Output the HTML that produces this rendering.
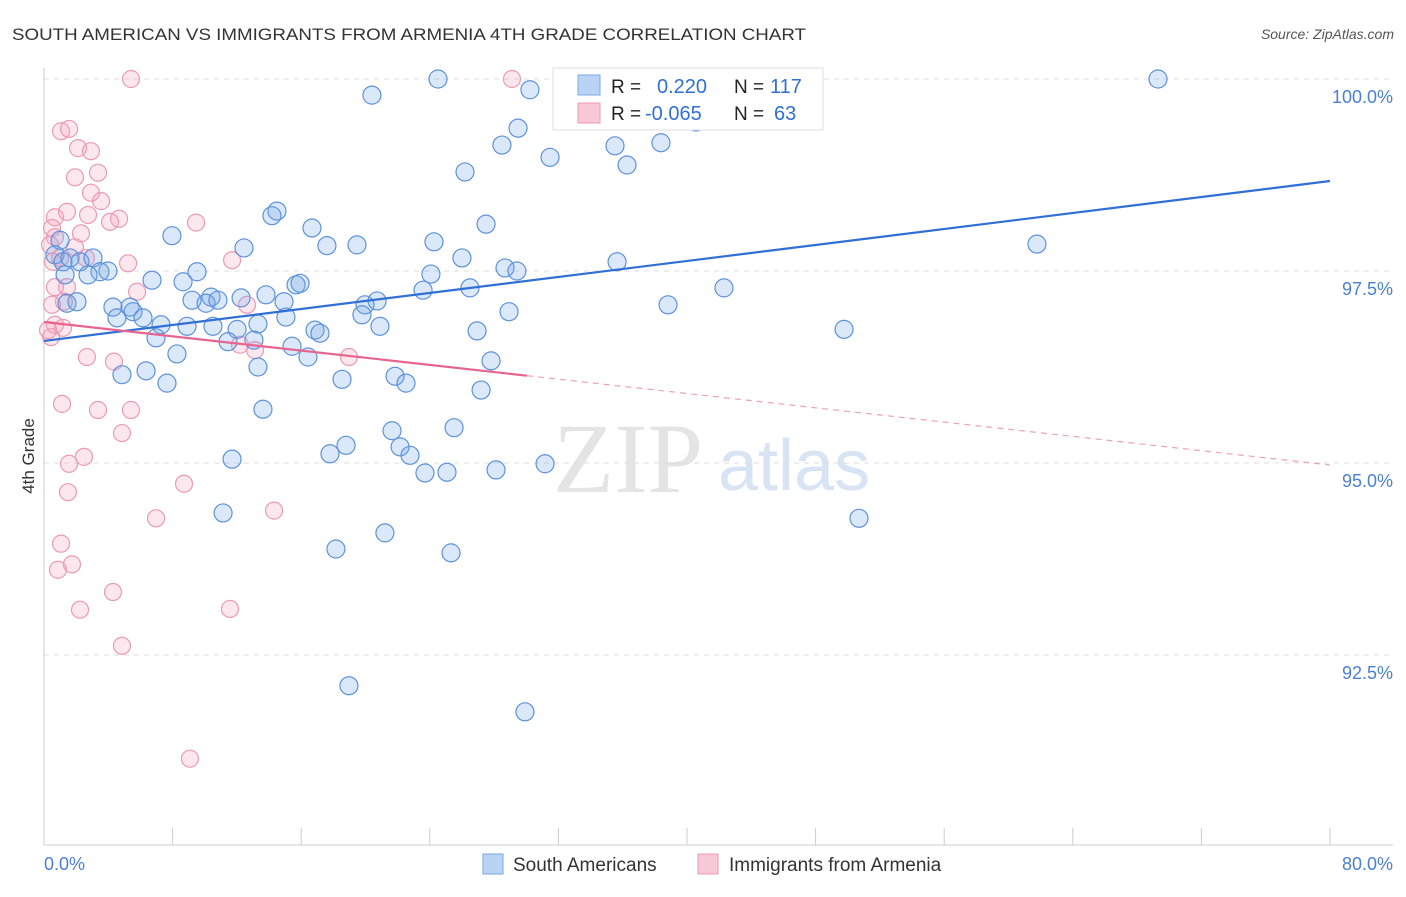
<!DOCTYPE html>
<html><head><meta charset="utf-8"><style>
body{margin:0;background:#fff;font-family:"Liberation Sans",sans-serif}
svg text{font-family:"Liberation Sans",sans-serif}
</style></head><body>
<svg id="c" width="1406" height="892">
<text x="12" y="40" font-size="17" fill="#333" textLength="794" lengthAdjust="spacingAndGlyphs">SOUTH AMERICAN VS IMMIGRANTS FROM ARMENIA 4TH GRADE CORRELATION CHART</text>
<text x="1394" y="39" font-size="14" fill="#555" text-anchor="end" font-style="italic">Source: ZipAtlas.com</text>
<text x="34" y="456" font-size="17" fill="#333" transform="rotate(-90 34 456)" text-anchor="middle">4th Grade</text>
<text x="553" y="492" font-size="100" fill="#e4e4e4" style="font-family:'Liberation Serif',serif">ZIP</text>
<text x="718" y="490" font-size="72" fill="#d8e4f4">atlas</text>
<g id="grid"></g><g id="pts"></g><g id="lines"></g>
<g>
<rect x="553" y="68" width="270" height="62" fill="#fff" stroke="#ddd"/>
<rect x="578" y="75" width="22" height="20" fill="#b8d3f4" stroke="#7aa8e6"/>
<rect x="578" y="103" width="22" height="20" fill="#f8c8d6" stroke="#ee9ab4"/>
<text x="611" y="93" font-size="19" fill="#222">R = </text><text x="657" y="93" font-size="20" fill="#2f6fd6">0.220</text>
<text x="734" y="93" font-size="19" fill="#222">N = </text><text x="770" y="93" font-size="20" fill="#2f6fd6">117</text>
<text x="611" y="120" font-size="19" fill="#222">R = </text><text x="645" y="120" font-size="20" fill="#2f6fd6">-0.065</text>
<text x="734" y="120" font-size="19" fill="#222">N = </text><text x="774" y="120" font-size="20" fill="#2f6fd6">63</text>
</g>
<g>
<rect x="483" y="854" width="20" height="20" fill="#b8d3f4" stroke="#7aa8e6"/>
<text x="513" y="871" font-size="19" fill="#333">South Americans</text>
<rect x="698" y="854" width="20" height="20" fill="#f8c8d6" stroke="#ee9ab4"/>
<text x="729" y="871" font-size="19" fill="#333">Immigrants from Armenia</text>
</g>
<text x="44" y="870" font-size="18" fill="#4a7fd6">0.0%</text>
<text x="1393" y="870" font-size="18" fill="#4a7fd6" text-anchor="end">80.0%</text>
</svg>
<script>
const yTicks=[100,97.5,95,92.5];
const yTickLabels=["100.0%","97.5%","95.0%","92.5%"];
const xTicks=[0,8,16,24,32,40,48,56,64,72,80];
const blueX=[24.51,20.40,30.23,35.33,39.32,69.30,32.54,29.49,28.49,31.48,35.52,38.38,36.27,26.19,40.56,14.49,14.18,16.67,27.50,7.96,12.44,17.60,19.47,24.26,61.77,35.65,26.00,28.68,29.42,24.07,1.00,0.68,1.18,1.62,2.24,3.05,3.48,3.98,1.31,2.74,6.72,8.65,9.52,15.68,15.93,13.81,10.39,26.50,23.58,42.30,9.21,10.08,10.82,12.26,14.93,4.29,5.35,1.43,2.05,4.54,5.54,6.16,7.28,8.90,10.51,12.01,13.31,15.05,20.72,19.97,19.78,20.90,16.86,17.17,28.93,26.94,38.82,49.77,6.97,11.45,13.06,15.43,16.42,8.27,27.81,13.31,6.35,4.85,7.65,18.54,21.84,22.52,27.19,13.62,21.65,25.51,18.79,22.15,22.77,17.79,11.70,23.70,25.07,28.12,31.17,11.14,50.70,21.21,18.16,25.32,18.97,29.92];
const blueY=[100,99.79,99.86,99.99,99.99,100,100,99.36,99.14,98.98,99.13,99.17,98.88,98.79,99.44,98.28,98.22,98.06,98.11,97.96,97.80,97.83,97.84,97.88,97.85,97.62,97.67,97.54,97.50,97.46,97.90,97.71,97.62,97.67,97.62,97.67,97.49,97.50,97.45,97.45,97.38,97.36,97.49,97.32,97.34,97.19,97.16,97.28,97.25,97.28,97.12,97.08,97.12,97.15,97.10,97.03,97.03,97.08,97.10,96.89,96.97,96.89,96.80,96.78,96.78,96.74,96.81,96.90,97.11,97.06,96.93,96.78,96.73,96.69,96.97,96.72,97.06,96.74,96.63,96.58,96.60,96.52,96.38,96.42,96.33,96.25,96.20,96.15,96.04,96.09,96.13,96.04,95.95,95.70,95.42,95.46,95.23,95.21,95.10,95.12,95.05,94.87,94.88,94.91,94.99,94.35,94.28,94.09,93.88,93.83,92.10,91.76];
const pinkX=[5.41,29.11,1.06,1.56,2.12,2.92,1.93,3.36,2.92,3.55,0.68,1.43,2.74,4.67,4.11,9.46,0.50,2.30,0.68,1.93,0.37,1.00,2.61,0.56,5.23,11.70,5.79,1.43,0.68,1.24,12.63,0.50,0.68,1.18,0.25,0.44,12.19,13.13,18.97,2.67,4.35,1.12,3.36,5.41,4.85,2.49,1.56,1.49,8.71,6.97,14.31,1.06,1.74,0.87,4.29,2.24,11.57,4.85,9.08];
const pinkY=[100,100,99.32,99.35,99.10,99.06,98.72,98.78,98.52,98.41,98.20,98.27,98.23,98.18,98.14,98.13,98.06,97.99,97.94,97.81,97.84,97.67,97.67,97.62,97.60,97.64,97.23,97.29,97.29,97.10,97.06,97.06,96.80,96.76,96.73,96.64,96.54,96.47,96.38,96.38,96.32,95.77,95.69,95.69,95.39,95.08,94.99,94.62,94.73,94.28,94.38,93.95,93.68,93.61,93.32,93.09,93.10,92.62,91.15];
const blueTrend=[96.589,98.672];
const pinkTrend=[96.836,94.974];
const pinkSolidEnd=30.05;
const NS="http://www.w3.org/2000/svg";
const sx=v=>44+v*16.075, sy=v=>79+(100-v)*76.8;
function mk(t,a,p){const e=document.createElementNS(NS,t);for(const k in a)e.setAttribute(k,a[k]);p.appendChild(e);return e;}
const grid=document.getElementById('grid');
yTicks.forEach((t,i)=>{
 const l=mk('line',{x1:44,x2:1393,y1:sy(t),y2:sy(t),stroke:'#ddd','stroke-dasharray':'5,5'},grid);
 
 
 const tx=mk('text',{x:1393,y:sy(t)+24,'font-size':18,fill:'#4a7fd6','text-anchor':'end'},grid);
 tx.textContent=yTickLabels[i];
 
 
});
const ax=mk('line',{x1:44,x2:44,y1:68,y2:845,stroke:'#ccc'},grid);


const bx=mk('line',{x1:44,x2:1393,y1:845,y2:845,stroke:'#ccc'},grid);


xTicks.forEach(t=>{
 const l=mk('line',{x1:sx(t),x2:sx(t),y1:828,y2:845,stroke:'#ccc'},grid);
 
 
});
const pts=document.getElementById('pts');
pinkX.forEach((x,i)=>{
 const c=mk('circle',{cx:sx(x),cy:sy(pinkY[i]),r:8.5,fill:'rgba(244,160,188,0.25)',stroke:'#ec9ab3','stroke-width':1.2},pts);
 
 
});
blueX.forEach((x,i)=>{
 const c=mk('circle',{cx:sx(x),cy:sy(blueY[i]),r:9,fill:'rgba(110,165,232,0.25)',stroke:'#5d92dc','stroke-width':1.2},pts);
 
 
});
const lines=document.getElementById('lines');
const pAt=x=>pinkTrend[0]+(pinkTrend[1]-pinkTrend[0])*x/80;
let l1=mk('line',{x1:sx(0),y1:sy(blueTrend[0]),x2:sx(80),y2:sy(blueTrend[1]),stroke:'#2f6fd6','stroke-width':2.2},lines);


let l2=mk('line',{x1:sx(0),y1:sy(pinkTrend[0]),x2:sx(pinkSolidEnd),y2:sy(pAt(pinkSolidEnd)),stroke:'#e8648f','stroke-width':2.2},lines);


let l3=mk('line',{x1:sx(pinkSolidEnd),y1:sy(pAt(pinkSolidEnd)),x2:sx(80),y2:sy(pinkTrend[1]),stroke:'#eea0b8','stroke-width':1.2,'stroke-dasharray':'6,5'},lines);


</script>
</body></html>
